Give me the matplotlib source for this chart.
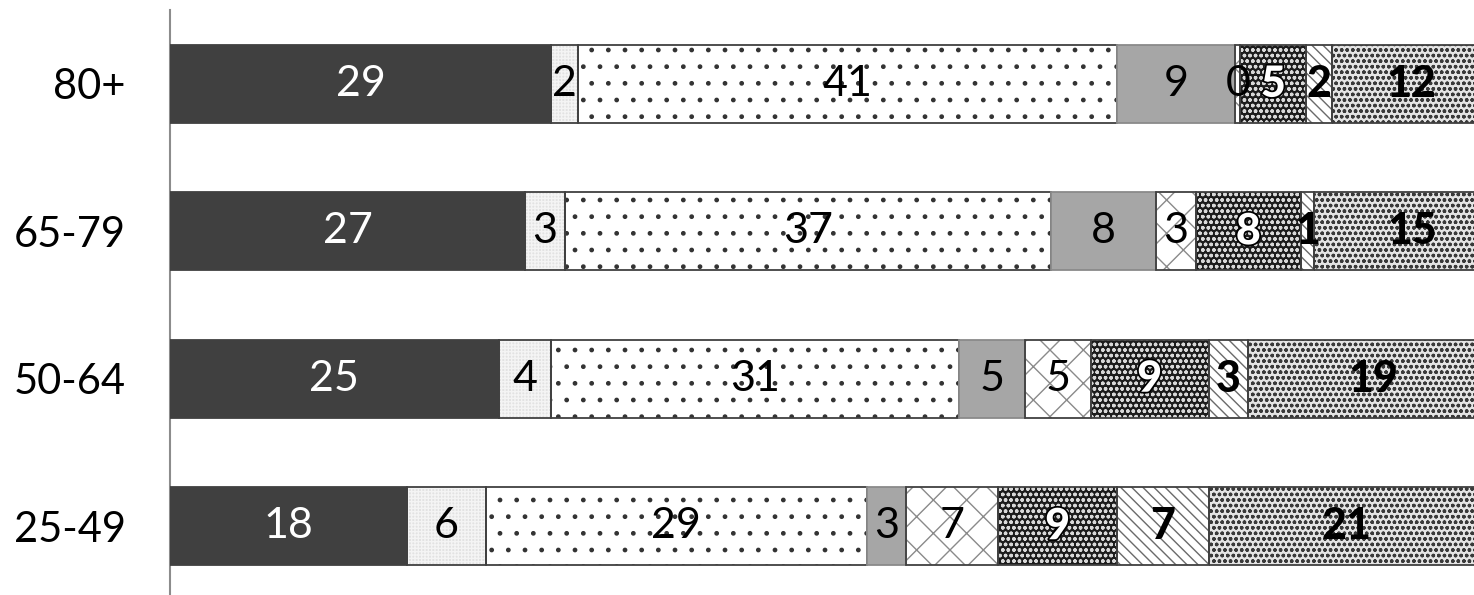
import matplotlib
matplotlib.use("Agg")
import matplotlib.pyplot as plt
import matplotlib.patheffects as pe

categories = ["25-49", "50-64", "65-79", "80+"]
s1 = [18, 25, 27, 29]
s2 = [6, 4, 3, 2]
s3 = [29, 31, 37, 41]
s4 = [3, 5, 8, 9]
s5 = [7, 5, 3, 0.4]
s6 = [9, 9, 8, 5]
s7 = [7, 3, 1, 2]
s8 = [21, 19, 15, 12]
series = [s1, s2, s3, s4, s5, s6, s7, s8]

styles = [
    dict(fc="#404040", hatch=None, hc=None, tc="white", bold=False, outline=False),
    dict(fc="#e2e2e2", hatch="+++++", hc="#f4f4f4", tc="black", bold=False, outline=False),
    dict(fc="white", hatch=".", hc="#333333", tc="black", bold=False, outline=False),
    dict(fc="#a6a6a6", hatch=None, hc=None, tc="black", bold=False, outline=False),
    dict(fc="white", hatch="x", hc="#8a8a8a", tc="black", bold=False, outline=False),
    dict(fc="#1c1c1c", hatch="ooo", hc="#d8d8d8", tc="white", bold=True, outline=True),
    dict(fc="white", hatch="\\\\\\", hc="#6a6a6a", tc="black", bold=True, outline=False),
    dict(fc="#e4e4e4", hatch="ooo", hc="#3a3a3a", tc="black", bold=True, outline=False),
]

plt.rcParams["font.family"] = ["Lato", "DejaVu Sans"]
plt.rcParams["hatch.linewidth"] = 1.0

fig = plt.figure(figsize=(14.74, 5.95), dpi=100)
ax = fig.add_axes([170 / 1474, -5 / 595, 1315 / 1474, 590 / 595])

y = list(range(len(categories)))
left = [0.0] * len(categories)
h = 0.53
for vals, st in zip(series, styles):
    if st["hatch"]:
        ax.barh(y, vals, left=left, height=h, color=st["fc"], hatch=st["hatch"],
                edgecolor=st["hc"], linewidth=0, zorder=2)
        ax.barh(y, vals, left=left, height=h, fill=False,
                edgecolor="#404040", linewidth=1.3, zorder=3)
    else:
        ax.barh(y, vals, left=left, height=h, color=st["fc"],
                edgecolor="#404040" if st["fc"] != "#a6a6a6" else "#8a8a8a",
                linewidth=1.3, zorder=3)
    for i, v in enumerate(vals):
        cx = left[i] + v / 2
        t = ax.text(cx, y[i], f"{round(v)}", ha="center", va="center",
                    fontsize=31, color=st["tc"],
                    fontweight="black" if st["bold"] else "normal", zorder=5)
        if st["outline"]:
            t.set_path_effects([pe.Stroke(linewidth=2.5, foreground="black"), pe.Normal()])
    left = [l + v for l, v in zip(left, vals)]

ax.set_xlim(0, 100)
ax.set_ylim(-0.5, 3.5)
ax.set_yticks(y)
ax.set_yticklabels(categories, fontsize=30)
ax.tick_params(axis="y", length=0, pad=32)
ax.set_xticks([])
for s in ["top", "right", "bottom"]:
    ax.spines[s].set_visible(False)
ax.spines["left"].set_color("#8c8c8c")
ax.spines["left"].set_linewidth(1.5)

fig.savefig("out.png", dpi=100)
